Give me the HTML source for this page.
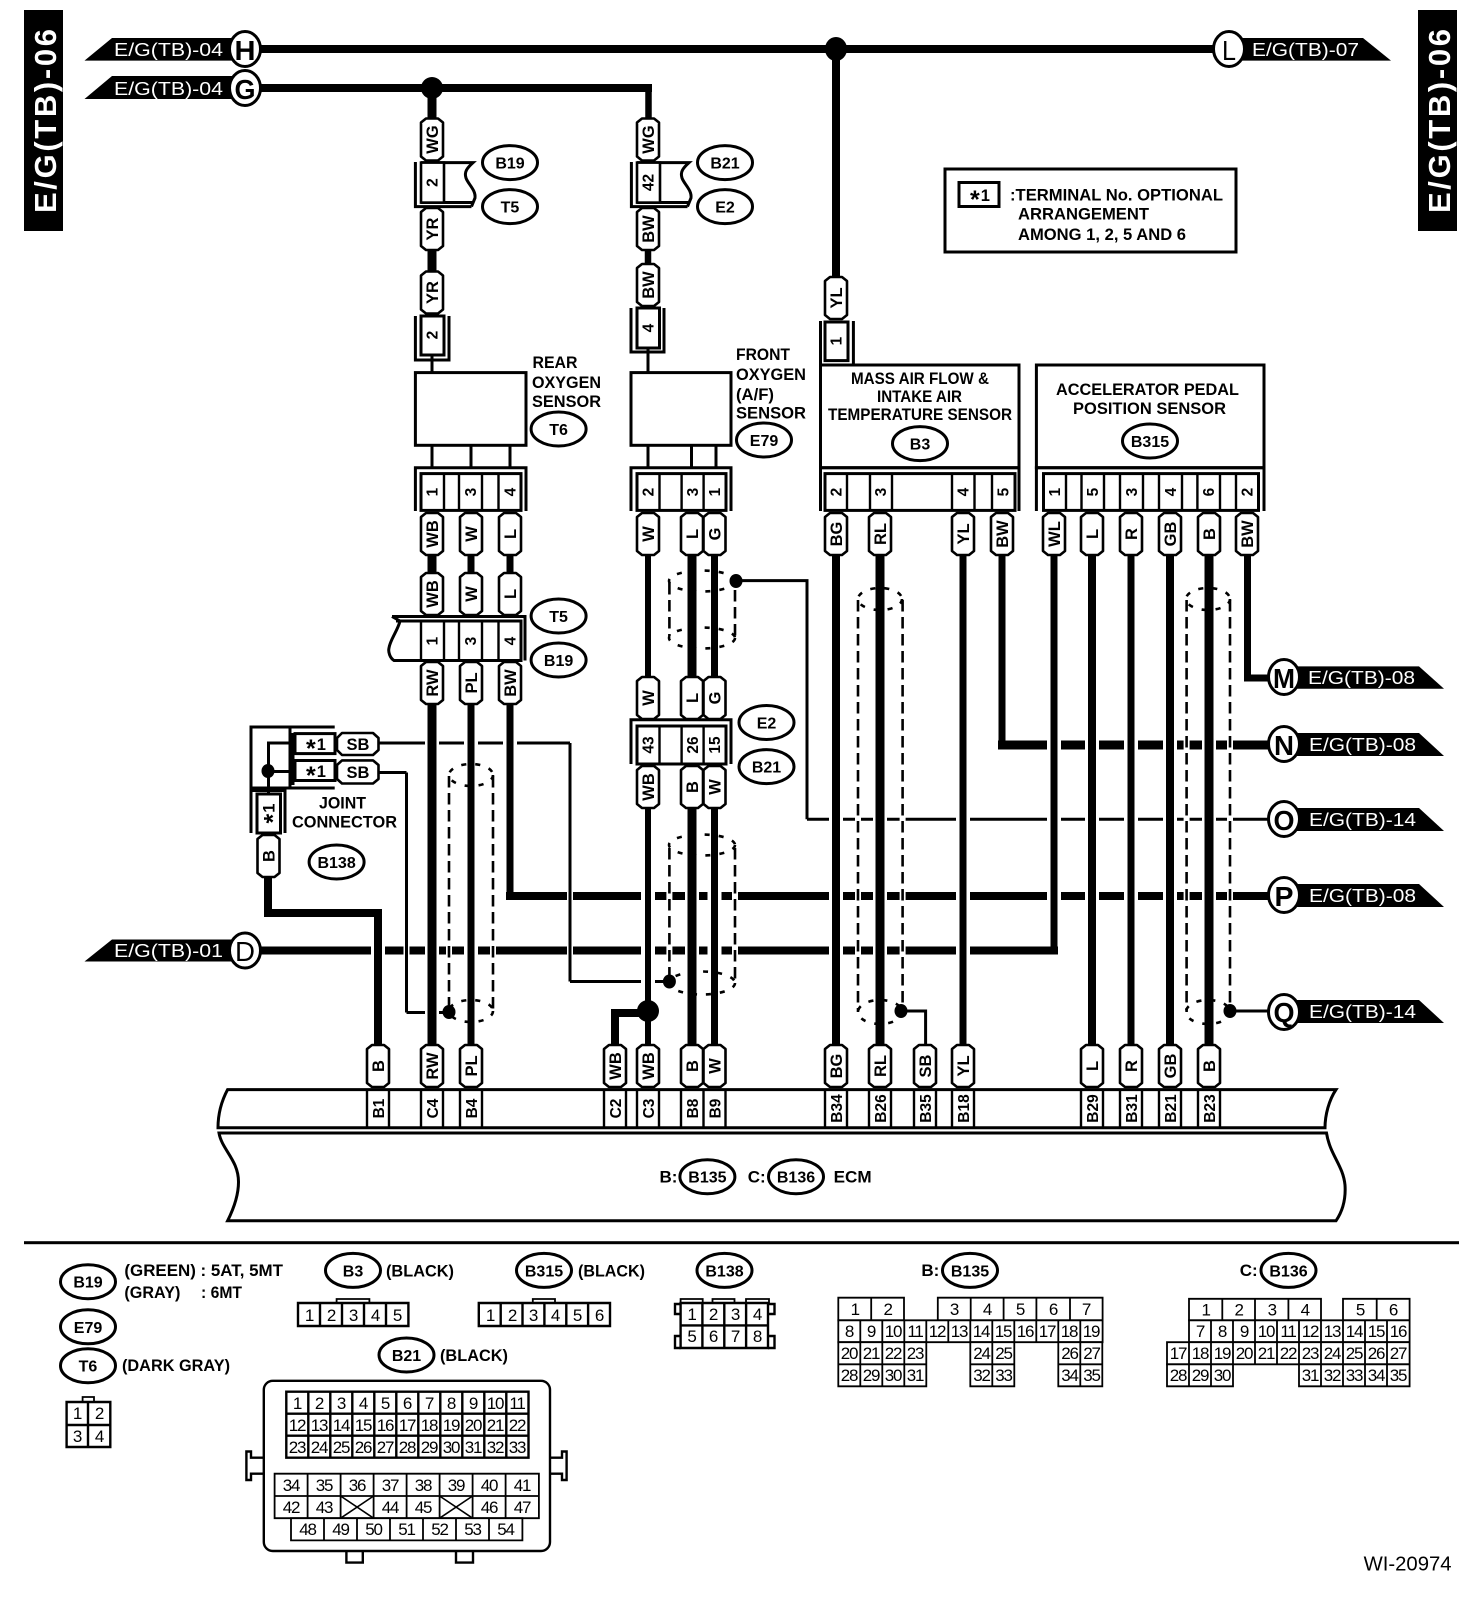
<!DOCTYPE html>
<html><head><meta charset="utf-8"><style>
html,body{margin:0;padding:0;background:#fff}
svg{display:block}
text{font-family:"Liberation Sans",sans-serif;fill:#000}
.b{font-weight:bold}
.l{font-weight:bold;font-size:17px}
.pl{font-weight:bold;font-size:16.5px;text-anchor:middle}
.n{font-weight:bold;font-size:15.5px;text-anchor:middle}
.e{font-weight:bold;font-size:16px;text-anchor:middle}
.g{font-size:17px;text-anchor:middle;letter-spacing:-1.2px}
.t{font-size:18px;fill:#fff}
.cl{font-size:28px;font-weight:bold;text-anchor:middle}
.el{fill:#fff;stroke:#000;stroke-width:3}
.pi{fill:#fff;stroke:#000;stroke-width:2.6;stroke-linejoin:round}
.s3{fill:none;stroke:#000;stroke-width:3}
.s2{fill:none;stroke:#000;stroke-width:2}
.box{fill:#fff;stroke:#000;stroke-width:3}
.grid{fill:#fff;stroke:#000;stroke-width:1.8}
.dash{fill:none;stroke:#000;stroke-width:2.6;stroke-dasharray:11.5 5.5}
.dsh2{fill:none;stroke:#000;stroke-width:2.6;stroke-dasharray:5 9}
</style></head><body>
<svg xmlns="http://www.w3.org/2000/svg" width="1472" height="1616" viewBox="0 0 1472 1616">
<defs>
<path id="p" class="pi" d="M-11,-17 L-6,-21 L6,-21 L11,-17 L11,17 L6,21 L-6,21 L-11,17Z"/>
<g id="cu">
<path class="s3" d="M415.4,162V206.6H471.5"/>
<path class="s3" d="M421,162.6H473C467,168 464,172 466,178C468,184 476,190 475,198L471.5,206.6"/>
<path class="s3" d="M421,202.5H474"/>
<rect x="421" y="162.6" width="23" height="40" fill="#fff" stroke="#000" stroke-width="2.6"/>
</g>
</defs>
<rect width="1472" height="1616" fill="#fff"/>

<!-- side title bars -->
<rect x="24" y="10" width="39" height="221" fill="#000"/>
<text transform="translate(56,213) rotate(-90)" class="b" font-size="31" style="fill:#fff" textLength="184" lengthAdjust="spacing">E/G(TB)-06</text>
<rect x="1418" y="10" width="39" height="221" fill="#000"/>
<text transform="translate(1450,213) rotate(-90)" class="b" font-size="31" style="fill:#fff" textLength="184" lengthAdjust="spacing">E/G(TB)-06</text>

<!-- tag shapes -->
<g fill="#000">
<polygon points="84.5,60.6 112,38 245,38 245,60.6"/>
<polygon points="84.5,99 112,76 245,76 245,99"/>
<polygon points="84.5,961.5 112,939.5 245,939.5 245,961.5"/>
<polygon points="1229,38 1363,38 1391,60.6 1229,60.6"/>
<polygon points="1284,666.4 1419,666.4 1444,688.8 1284,688.8"/>
<polygon points="1284,733 1419,733 1444,756 1284,756"/>
<polygon points="1284,808 1419,808 1444,831 1284,831"/>
<polygon points="1284,884 1419,884 1444,907 1284,907"/>
<polygon points="1284,1000 1419,1000 1444,1023 1284,1023"/>
</g>
<g class="t">
<text class="t" x="114" y="56" textLength="109" lengthAdjust="spacingAndGlyphs">E/G(TB)-04</text>
<text class="t" x="114" y="95" textLength="109" lengthAdjust="spacingAndGlyphs">E/G(TB)-04</text>
<text class="t" x="114" y="957" textLength="109" lengthAdjust="spacingAndGlyphs">E/G(TB)-01</text>
<text class="t" x="1252" y="56" textLength="107" lengthAdjust="spacingAndGlyphs">E/G(TB)-07</text>
<text class="t" x="1308" y="684" textLength="107" lengthAdjust="spacingAndGlyphs">E/G(TB)-08</text>
<text class="t" x="1309" y="751" textLength="107" lengthAdjust="spacingAndGlyphs">E/G(TB)-08</text>
<text class="t" x="1309" y="826" textLength="107" lengthAdjust="spacingAndGlyphs">E/G(TB)-14</text>
<text class="t" x="1309" y="902" textLength="107" lengthAdjust="spacingAndGlyphs">E/G(TB)-08</text>
<text class="t" x="1309" y="1018" textLength="107" lengthAdjust="spacingAndGlyphs">E/G(TB)-14</text>
</g>

<!-- horizontal wires (layer 1) -->
<g fill="none" stroke="#000">
<path stroke-width="8" d="M245,49H1229"/>
<path stroke-width="8" d="M245,88H652"/>
<path stroke-width="8" d="M245,950.5H1058"/>
<path stroke-width="8" d="M506,896H1284"/>
<path stroke-width="9" d="M998,745H1284"/>
<path stroke-width="3" d="M807,819.3H1284"/>
<path stroke-width="3" d="M378,743H570"/>
<path stroke-width="3" d="M378,772.5H406.5"/>
<path stroke-width="3" d="M406.5,1012.5H449"/>
<path stroke-width="3" d="M570,981.5H669"/>
</g>
<!-- halos -->
<g fill="none" stroke="#fff">
<path stroke-width="14" d="M378,920V1040M432,705V1040M471,705V1040M510,705V890M648,810V1005M692,810V1040M714.5,810V1040M836,555V1040M880,555V1040M963,555V1040M1054,555V944M1092,555V1040M1131,555V1040M1170,555V1040M1209,555V1040"/>
<path stroke-width="6" d="M406.5,940V960M570,880V970M449,880V960M493,880V960M669.4,880V960M735,880V960M858,735V1000M902.6,735V1000M1186.6,735V1000M1230,735V1000"/>
</g>
<!-- vertical wires (layer 3) -->
<g fill="none" stroke="#000">
<path stroke-width="9" d="M432,88V118M432,250V271"/>
<path stroke-width="6.5" d="M648.5,84V118M648,250V264"/>
<path stroke-width="8" d="M836,49V276"/>
<path stroke-width="3" d="M432,355V373M648,348V373"/>
<path stroke-width="3" d="M432,445V468M471,445V468M510,445V468M648,445V468M691.5,445V468M716,445V468"/>
<path stroke-width="9" d="M432,555V573M432,704V1044"/>
<path stroke-width="7" d="M471,555V573M471,704V1044"/>
<path stroke-width="7" d="M510,555V573"/>
<path stroke-width="7" d="M510,704V899.5"/>
<path stroke-width="6" d="M648,555V677M648,808V1044"/>
<path stroke-width="9" d="M692,555V677M692,808V1044"/>
<path stroke-width="7" d="M714.5,555V677M714.5,808V1044"/>
<path stroke-width="8" d="M836,555V1044"/>
<path stroke-width="9" d="M880,555V1044"/>
<path stroke-width="7" d="M963,555V1044"/>
<path stroke-width="7" d="M1002,555V749"/>
<path stroke-width="7" d="M1054,555V954"/>
<path stroke-width="8" d="M1092,555V1044"/>
<path stroke-width="7" d="M1131,555V1044"/>
<path stroke-width="8" d="M1170,555V1044"/>
<path stroke-width="9" d="M1209,555V1044"/>
<path stroke-width="7" d="M1247.5,555V678H1270"/>
<path stroke-width="8" d="M268,876V913H378V1044"/>
<path stroke-width="8" d="M645,1013H615V1044"/>
<path stroke-width="3" d="M570,743V981.5M406.5,772.5V1012.5"/>
<path stroke-width="3" d="M736,580.6H807V819.3"/>
<path stroke-width="3" d="M901,1011H925.6V1044"/>
<path stroke-width="3" d="M1230,1011H1284"/>
</g>
<g fill="#000">
<ellipse cx="432" cy="88" rx="11" ry="11"/>
<ellipse cx="836" cy="49" rx="11" ry="12"/>
<ellipse cx="648" cy="1011" rx="11" ry="11"/>
<ellipse cx="669.4" cy="981.5" rx="6.5" ry="7"/>
<ellipse cx="736" cy="581" rx="6.5" ry="7"/>
<ellipse cx="449" cy="1012" rx="6.5" ry="7"/>
<ellipse cx="901" cy="1011" rx="6.5" ry="7"/>
<ellipse cx="1230" cy="1011" rx="6.5" ry="7"/>
</g>

<!-- shields -->
<path class="dash" d="M449,776V1010M493,776V1010M669.4,583V636M735,590V636M669.4,848V980M735,848V980M858,600V1012M902.6,600V1012M1186.6,600V1012M1230,600V1012"/>
<g>
<ellipse class="dsh2" cx="471" cy="775" rx="22" ry="11"/>
<ellipse class="dsh2" cx="471" cy="1011" rx="22" ry="11"/>
<ellipse class="dsh2" cx="702" cy="581" rx="33" ry="10.5"/>
<ellipse class="dsh2" cx="702" cy="638" rx="33" ry="10.5"/>
<ellipse class="dsh2" cx="702" cy="845" rx="33" ry="10.5"/>
<ellipse class="dsh2" cx="702" cy="983" rx="33" ry="11.5"/>
<ellipse class="dsh2" cx="880" cy="599" rx="22" ry="11"/>
<ellipse class="dsh2" cx="880" cy="1012" rx="22" ry="12"/>
<ellipse class="dsh2" cx="1208" cy="599" rx="22" ry="11"/>
<ellipse class="dsh2" cx="1208" cy="1012" rx="22" ry="12"/>
</g>

<!-- circles -->
<g>
<ellipse class="el" cx="245" cy="49" rx="15.5" ry="17.5"/>
<ellipse class="el" cx="245" cy="88" rx="15.5" ry="17.5"/>
<ellipse class="el" cx="245" cy="950.5" rx="15.5" ry="17.5"/>
<ellipse class="el" cx="1229" cy="49" rx="15.5" ry="17.5"/>
<ellipse class="el" cx="1284" cy="677" rx="15.5" ry="17.5"/>
<ellipse class="el" cx="1284" cy="744" rx="15.5" ry="17.5"/>
<ellipse class="el" cx="1284" cy="819" rx="15.5" ry="17.5"/>
<ellipse class="el" cx="1284" cy="895" rx="15.5" ry="17.5"/>
<ellipse class="el" cx="1284" cy="1012" rx="15.5" ry="17.5"/>
</g>
<text class="cl" x="245" y="60" textLength="21" lengthAdjust="spacingAndGlyphs">H</text>
<text class="cl" x="245" y="99" textLength="21" lengthAdjust="spacingAndGlyphs">G</text>
<text class="cl" x="245" y="961" style="font-weight:normal" textLength="20" lengthAdjust="spacingAndGlyphs">D</text>
<text class="cl" x="1229" y="60" style="font-weight:normal" textLength="14" lengthAdjust="spacingAndGlyphs">L</text>
<text class="cl" x="1284" y="688" textLength="22" lengthAdjust="spacingAndGlyphs">M</text>
<text class="cl" x="1284" y="755" textLength="20" lengthAdjust="spacingAndGlyphs">N</text>
<text class="cl" x="1284" y="830" textLength="21" lengthAdjust="spacingAndGlyphs">O</text>
<text class="cl" x="1284" y="906" textLength="19" lengthAdjust="spacingAndGlyphs">P</text>
<text class="cl" x="1284" y="1022" textLength="21" lengthAdjust="spacingAndGlyphs">Q</text>

<!-- sensor boxes -->
<rect class="box" x="415.4" y="372.6" width="110.6" height="72.7"/>
<rect class="box" x="631" y="372.6" width="100" height="72.7"/>
<rect class="box" x="820.5" y="365" width="198.5" height="102.7"/>
<rect class="box" x="1036.4" y="365" width="227.6" height="102.7"/>

<!-- upper connectors -->
<use href="#cu"/>
<use href="#cu" x="216"/>
<path class="s3" d="M415.4,316V360H449V316"/>
<path class="s3" d="M631,308V352H664V308"/>
<path class="s3" d="M820.5,321V365M853.4,321V365"/>
<rect class="box" x="421" y="316" width="23" height="39"/>
<rect class="box" x="637" y="308" width="22.5" height="40"/>
<rect class="box" x="825" y="322" width="23" height="38.6"/>

<!-- lower sensor connectors -->
<path class="s3" d="M415.4,511V467.7H526V511"/>
<path class="s3" d="M631,511V467.7H731V511"/>
<path class="s3" d="M820.5,511V467.7H1019V511"/>
<path class="s3" d="M1036.4,511V467.7H1264V511"/>
<rect class="box" x="421" y="473.6" width="100" height="36.8"/>
<rect class="box" x="637" y="473.6" width="89" height="36.8"/>
<rect class="box" x="825" y="473.6" width="190" height="36.8"/>
<rect class="box" x="1043.5" y="473.6" width="215" height="36.8"/>
<path stroke="#000" stroke-width="2.4" fill="none" d="M444,473.6V510.4M459,473.6V510.4M482,473.6V510.4M498.5,473.6V510.4M659.5,473.6V510.4M681.6,473.6V510.4M703.6,473.6V510.4M847,473.6V510.4M870,473.6V510.4M892,473.6V510.4M952,473.6V510.4M974.5,473.6V510.4M992,473.6V510.4M1066,473.6V510.4M1081.5,473.6V510.4M1104,473.6V510.4M1120,473.6V510.4M1143,473.6V510.4M1159,473.6V510.4M1182,473.6V510.4M1197.4,473.6V510.4M1220,473.6V510.4M1236,473.6V510.4"/>

<!-- T5/B19 rear connector -->
<path class="box" d="M392,616.5H525V660.5"/>
<path fill="#fff" stroke="#000" stroke-width="3" d="M396,621H521V660.5H394C390,658 388,652 389,648C390,640 398,630 400,621Z"/>
<path fill="none" stroke="#000" stroke-width="3" d="M392,616.5L400,621"/>
<path stroke="#000" stroke-width="2.4" fill="none" d="M421,621V660.5M444,621V660.5M459,621V660.5M482,621V660.5M498.5,621V660.5"/>

<!-- E2/B21 connector -->
<path class="s3" d="M631,764V719.8H731V764"/>
<rect class="box" x="637" y="726" width="89" height="38"/>
<path stroke="#000" stroke-width="2.4" fill="none" d="M659.5,726V764M681.6,726V764M703.6,726V764"/>

<!-- joint connector -->
<path class="s3" d="M334.7,727H251V788H334.7M290,727V788M293,733V785"/>
<path fill="none" stroke="#000" stroke-width="3" d="M294,743H268.5V794M294,771.5H268.5"/>
<ellipse cx="268" cy="771" rx="6.5" ry="7" fill="#000"/>
<rect class="box" x="295" y="733.6" width="40" height="20"/>
<rect class="box" x="295" y="760.5" width="40" height="20"/>
<path class="s3" d="M251,833V790.5H285V833"/>
<rect class="box" x="257" y="794" width="23.5" height="39"/>
<polygon class="pi" points="337,738 342,733 373,733 378.5,738 378.5,750 373,755 342,755 337,750"/>
<polygon class="pi" points="337,765 342,760.4 373,760.4 378.5,765 378.5,779 373,783.5 342,783.5 337,779"/>
<text class="pl" x="316" y="750"><tspan font-size="25" dy="7">*</tspan><tspan dy="-7" dx="1">1</tspan></text>
<text class="pl" x="316" y="777"><tspan font-size="25" dy="7">*</tspan><tspan dy="-7" dx="1">1</tspan></text>
<text class="pl" x="358" y="750">SB</text>
<text class="pl" x="358" y="778">SB</text>
<text transform="translate(274.5,813.5) rotate(-90)" class="pl"><tspan font-size="25" dy="7">*</tspan><tspan dy="-7" dx="1">1</tspan></text>
<use href="#p" x="268.5" y="856"/>
<text transform="translate(274.5,856) rotate(-90)" class="pl">B</text>

<!-- pills -->
<use href="#p" x="432" y="139.5"/><use href="#p" x="648" y="139.5"/>
<use href="#p" x="432" y="229"/><use href="#p" x="648" y="229"/>
<use href="#p" x="432" y="292.5"/><use href="#p" x="648" y="285"/>
<use href="#p" x="836" y="298"/>
<use href="#p" x="432" y="534"/><use href="#p" x="471" y="534"/><use href="#p" x="510" y="534"/><use href="#p" x="648" y="534"/><use href="#p" x="692" y="534"/><use href="#p" x="714.5" y="534"/><use href="#p" x="836" y="534"/><use href="#p" x="880" y="534"/><use href="#p" x="963" y="534"/><use href="#p" x="1002" y="534"/><use href="#p" x="1054" y="534"/><use href="#p" x="1092" y="534"/><use href="#p" x="1131" y="534"/><use href="#p" x="1170" y="534"/><use href="#p" x="1209" y="534"/><use href="#p" x="1247" y="534"/>
<use href="#p" x="432" y="594"/><use href="#p" x="471" y="594"/><use href="#p" x="510" y="594"/>
<use href="#p" x="432" y="683"/><use href="#p" x="471" y="683"/><use href="#p" x="510" y="683"/>
<use href="#p" x="648" y="698"/><use href="#p" x="692" y="698"/><use href="#p" x="714.5" y="698"/>
<use href="#p" x="648" y="787"/><use href="#p" x="692" y="787"/><use href="#p" x="714.5" y="787"/>
<use href="#p" x="378" y="1066"/><use href="#p" x="432" y="1066"/><use href="#p" x="471" y="1066"/><use href="#p" x="615" y="1066"/><use href="#p" x="648" y="1066"/><use href="#p" x="692" y="1066"/><use href="#p" x="714.5" y="1066"/><use href="#p" x="836" y="1066"/><use href="#p" x="880" y="1066"/><use href="#p" x="925" y="1066"/><use href="#p" x="963" y="1066"/><use href="#p" x="1092" y="1066"/><use href="#p" x="1131" y="1066"/><use href="#p" x="1170" y="1066"/><use href="#p" x="1209" y="1066"/>

<!-- pill labels -->
<text transform="translate(438,139.5) rotate(-90)" class="pl">WG</text><text transform="translate(654,139.5) rotate(-90)" class="pl">WG</text>
<text transform="translate(438,229) rotate(-90)" class="pl">YR</text><text transform="translate(654,229) rotate(-90)" class="pl">BW</text>
<text transform="translate(438,292.5) rotate(-90)" class="pl">YR</text><text transform="translate(654,285) rotate(-90)" class="pl">BW</text>
<text transform="translate(842,298) rotate(-90)" class="pl">YL</text>
<text transform="translate(438,534) rotate(-90)" class="pl">WB</text><text transform="translate(477,534) rotate(-90)" class="pl">W</text><text transform="translate(516,534) rotate(-90)" class="pl">L</text><text transform="translate(654,534) rotate(-90)" class="pl">W</text><text transform="translate(698,534) rotate(-90)" class="pl">L</text><text transform="translate(720.5,534) rotate(-90)" class="pl">G</text><text transform="translate(842,534) rotate(-90)" class="pl">BG</text><text transform="translate(886,534) rotate(-90)" class="pl">RL</text><text transform="translate(969,534) rotate(-90)" class="pl">YL</text><text transform="translate(1008,534) rotate(-90)" class="pl">BW</text><text transform="translate(1060,534) rotate(-90)" class="pl">WL</text><text transform="translate(1098,534) rotate(-90)" class="pl">L</text><text transform="translate(1137,534) rotate(-90)" class="pl">R</text><text transform="translate(1176,534) rotate(-90)" class="pl">GB</text><text transform="translate(1215,534) rotate(-90)" class="pl">B</text><text transform="translate(1253,534) rotate(-90)" class="pl">BW</text>
<text transform="translate(438,594) rotate(-90)" class="pl">WB</text><text transform="translate(477,594) rotate(-90)" class="pl">W</text><text transform="translate(516,594) rotate(-90)" class="pl">L</text>
<text transform="translate(438,683) rotate(-90)" class="pl">RW</text><text transform="translate(477,683) rotate(-90)" class="pl">PL</text><text transform="translate(516,683) rotate(-90)" class="pl">BW</text>
<text transform="translate(654,698) rotate(-90)" class="pl">W</text><text transform="translate(698,698) rotate(-90)" class="pl">L</text><text transform="translate(720.5,698) rotate(-90)" class="pl">G</text>
<text transform="translate(654,787) rotate(-90)" class="pl">WB</text><text transform="translate(698,787) rotate(-90)" class="pl">B</text><text transform="translate(720.5,787) rotate(-90)" class="pl">W</text>
<text transform="translate(384,1066) rotate(-90)" class="pl">B</text><text transform="translate(438,1066) rotate(-90)" class="pl">RW</text><text transform="translate(477,1066) rotate(-90)" class="pl">PL</text><text transform="translate(621,1066) rotate(-90)" class="pl">WB</text><text transform="translate(654,1066) rotate(-90)" class="pl">WB</text><text transform="translate(698,1066) rotate(-90)" class="pl">B</text><text transform="translate(720.5,1066) rotate(-90)" class="pl">W</text><text transform="translate(842,1066) rotate(-90)" class="pl">BG</text><text transform="translate(886,1066) rotate(-90)" class="pl">RL</text><text transform="translate(931,1066) rotate(-90)" class="pl">SB</text><text transform="translate(969,1066) rotate(-90)" class="pl">YL</text><text transform="translate(1098,1066) rotate(-90)" class="pl">L</text><text transform="translate(1137,1066) rotate(-90)" class="pl">R</text><text transform="translate(1176,1066) rotate(-90)" class="pl">GB</text><text transform="translate(1215,1066) rotate(-90)" class="pl">B</text>

<!-- cell numbers -->
<text transform="translate(437.5,182.5) rotate(-90)" class="n">2</text><text transform="translate(653.5,182.5) rotate(-90)" class="n">42</text>
<text transform="translate(437.5,335) rotate(-90)" class="n">2</text><text transform="translate(653.5,328) rotate(-90)" class="n">4</text><text transform="translate(841.5,341) rotate(-90)" class="n">1</text>
<text transform="translate(437.5,492) rotate(-90)" class="n">1</text><text transform="translate(476,492) rotate(-90)" class="n">3</text><text transform="translate(515.5,492) rotate(-90)" class="n">4</text>
<text transform="translate(653.5,492) rotate(-90)" class="n">2</text><text transform="translate(698,492) rotate(-90)" class="n">3</text><text transform="translate(720,492) rotate(-90)" class="n">1</text>
<text transform="translate(841.5,492) rotate(-90)" class="n">2</text><text transform="translate(886,492) rotate(-90)" class="n">3</text><text transform="translate(968.5,492) rotate(-90)" class="n">4</text><text transform="translate(1008.5,492) rotate(-90)" class="n">5</text>
<text transform="translate(1060,492) rotate(-90)" class="n">1</text><text transform="translate(1098,492) rotate(-90)" class="n">5</text><text transform="translate(1137,492) rotate(-90)" class="n">3</text><text transform="translate(1176,492) rotate(-90)" class="n">4</text><text transform="translate(1214,492) rotate(-90)" class="n">6</text><text transform="translate(1252.5,492) rotate(-90)" class="n">2</text>
<text transform="translate(437.5,641) rotate(-90)" class="n">1</text><text transform="translate(476,641) rotate(-90)" class="n">3</text><text transform="translate(515.5,641) rotate(-90)" class="n">4</text>
<text transform="translate(653.5,745) rotate(-90)" class="n">43</text><text transform="translate(698,745) rotate(-90)" class="n">26</text><text transform="translate(720,745) rotate(-90)" class="n">15</text>

<!-- sensor and ref labels -->
<text class="l" x="532.5" y="368" textLength="45" lengthAdjust="spacingAndGlyphs">REAR</text>
<text class="l" x="532" y="388" textLength="69" lengthAdjust="spacingAndGlyphs">OXYGEN</text>
<text class="l" x="532" y="407" textLength="69" lengthAdjust="spacingAndGlyphs">SENSOR</text>
<text class="l" x="736" y="360" textLength="54" lengthAdjust="spacingAndGlyphs">FRONT</text>
<text class="l" x="736" y="380" textLength="70" lengthAdjust="spacingAndGlyphs">OXYGEN</text>
<text class="l" x="736" y="400" textLength="38" lengthAdjust="spacingAndGlyphs">(A/F)</text>
<text class="l" x="736" y="418.5" textLength="70" lengthAdjust="spacingAndGlyphs">SENSOR</text>
<text class="l" x="851" y="384" textLength="138" lengthAdjust="spacingAndGlyphs">MASS AIR FLOW &amp;</text>
<text class="l" x="877" y="402" textLength="85" lengthAdjust="spacingAndGlyphs">INTAKE AIR</text>
<text class="l" x="828" y="420" textLength="184" lengthAdjust="spacingAndGlyphs">TEMPERATURE SENSOR</text>
<text class="l" x="1056" y="395" textLength="183" lengthAdjust="spacingAndGlyphs">ACCELERATOR PEDAL</text>
<text class="l" x="1073" y="414" textLength="153" lengthAdjust="spacingAndGlyphs">POSITION SENSOR</text>
<text class="l" x="319" y="808.6" textLength="47" lengthAdjust="spacingAndGlyphs">JOINT</text>
<text class="l" x="292" y="827.6" textLength="105" lengthAdjust="spacingAndGlyphs">CONNECTOR</text>

<!-- note box -->
<rect class="box" x="945" y="169" width="291" height="83"/>
<rect class="box" x="959" y="182.5" width="40" height="24"/>
<text class="pl" x="980" y="201"><tspan font-size="25" dy="7">*</tspan><tspan dy="-7" dx="1">1</tspan></text>
<text class="l" x="1010" y="200.5" textLength="213" lengthAdjust="spacingAndGlyphs">:TERMINAL No. OPTIONAL</text>
<text class="l" x="1018" y="219.5" textLength="131" lengthAdjust="spacingAndGlyphs">ARRANGEMENT</text>
<text class="l" x="1018" y="240" textLength="168" lengthAdjust="spacingAndGlyphs">AMONG 1, 2, 5 AND 6</text>

<!-- ref ellipses -->
<ellipse class="el" cx="510" cy="162.6" rx="27.5" ry="17"/><text class="e" x="510" y="168.6">B19</text>
<ellipse class="el" cx="510" cy="206.6" rx="27.5" ry="17"/><text class="e" x="510" y="212.6">T5</text>
<ellipse class="el" cx="725" cy="162.6" rx="27.5" ry="17"/><text class="e" x="725" y="168.6">B21</text>
<ellipse class="el" cx="725" cy="206.6" rx="27.5" ry="17"/><text class="e" x="725" y="212.6">E2</text>
<ellipse class="el" cx="558.6" cy="429" rx="27.5" ry="17"/><text class="e" x="558.6" y="435">T6</text>
<ellipse class="el" cx="764" cy="440" rx="27.5" ry="17"/><text class="e" x="764" y="446">E79</text>
<ellipse class="el" cx="920" cy="443.6" rx="27.5" ry="17"/><text class="e" x="920" y="449.6">B3</text>
<ellipse class="el" cx="1150" cy="441" rx="27.5" ry="17"/><text class="e" x="1150" y="447">B315</text>
<ellipse class="el" cx="558.6" cy="616" rx="27.5" ry="17"/><text class="e" x="558.6" y="622">T5</text>
<ellipse class="el" cx="558.6" cy="660" rx="27.5" ry="17"/><text class="e" x="558.6" y="666">B19</text>
<ellipse class="el" cx="766.5" cy="722.5" rx="27.5" ry="17"/><text class="e" x="766.5" y="728.5">E2</text>
<ellipse class="el" cx="766.5" cy="766.6" rx="27.5" ry="17"/><text class="e" x="766.5" y="772.6">B21</text>
<ellipse class="el" cx="336.6" cy="862" rx="27.5" ry="17"/><text class="e" x="336.6" y="868">B138</text>

<!-- ECM -->
<path class="s3" d="M1336,1089.6H227.6C221,1102 218,1115 218,1127.8H1325C1325,1115 1329,1100 1336,1089.6Z"/>
<path class="s3" d="M219,1133H1326.5C1330,1155 1343,1165 1345,1185C1346,1200 1342,1212 1336,1220.8H227.6C234,1208 238.5,1195 238.5,1182C238.5,1160 222,1150 219,1133Z"/>
<path stroke="#000" stroke-width="2.4" fill="none" d="M367,1089.6V1127.8M389,1089.6V1127.8M421,1089.6V1127.8M443,1089.6V1127.8M460,1089.6V1127.8M482,1089.6V1127.8M604,1089.6V1127.8M626,1089.6V1127.8M637,1089.6V1127.8M659,1089.6V1127.8M681,1089.6V1127.8M703.5,1089.6V1127.8M725.5,1089.6V1127.8M825,1089.6V1127.8M847,1089.6V1127.8M869,1089.6V1127.8M891,1089.6V1127.8M914,1089.6V1127.8M936,1089.6V1127.8M952,1089.6V1127.8M974,1089.6V1127.8M1081,1089.6V1127.8M1103,1089.6V1127.8M1120,1089.6V1127.8M1142,1089.6V1127.8M1159,1089.6V1127.8M1181,1089.6V1127.8M1198,1089.6V1127.8M1220,1089.6V1127.8"/>
<g>
<text transform="translate(384,1108.5) rotate(-90)" class="n">B1</text><text transform="translate(438,1108.5) rotate(-90)" class="n">C4</text><text transform="translate(477,1108.5) rotate(-90)" class="n">B4</text><text transform="translate(621,1108.5) rotate(-90)" class="n">C2</text><text transform="translate(654,1108.5) rotate(-90)" class="n">C3</text><text transform="translate(698,1108.5) rotate(-90)" class="n">B8</text><text transform="translate(720.5,1108.5) rotate(-90)" class="n">B9</text><text transform="translate(842,1108.5) rotate(-90)" class="n">B34</text><text transform="translate(886,1108.5) rotate(-90)" class="n">B26</text><text transform="translate(931,1108.5) rotate(-90)" class="n">B35</text><text transform="translate(969,1108.5) rotate(-90)" class="n">B18</text><text transform="translate(1098,1108.5) rotate(-90)" class="n">B29</text><text transform="translate(1137,1108.5) rotate(-90)" class="n">B31</text><text transform="translate(1176,1108.5) rotate(-90)" class="n">B21</text><text transform="translate(1215,1108.5) rotate(-90)" class="n">B23</text>
</g>
<text class="l" x="659.5" y="1182.5">B:</text>
<ellipse class="el" cx="707.4" cy="1176.7" rx="27.5" ry="17"/><text class="e" x="707.4" y="1182.7">B135</text>
<text class="l" x="747.7" y="1182.5">C:</text>
<ellipse class="el" cx="796" cy="1176.7" rx="27.5" ry="17"/><text class="e" x="796" y="1182.7">B136</text>
<text class="l" x="833.6" y="1182.5" textLength="38" lengthAdjust="spacingAndGlyphs">ECM</text>

<!-- divider -->
<rect x="24" y="1241.2" width="1435" height="3" fill="#000"/>

<!-- legend -->
<ellipse class="el" cx="88" cy="1281.7" rx="27.5" ry="17"/><text class="e" x="88" y="1287.7">B19</text>
<ellipse class="el" cx="88" cy="1326.8" rx="27.5" ry="17"/><text class="e" x="88" y="1332.8">E79</text>
<ellipse class="el" cx="88" cy="1365.7" rx="27.5" ry="17"/><text class="e" x="88" y="1371.7">T6</text>
<text class="l" x="124.4" y="1276" textLength="158.6" lengthAdjust="spacingAndGlyphs">(GREEN) : 5AT, 5MT</text>
<text class="l" x="124.4" y="1298" textLength="56" lengthAdjust="spacingAndGlyphs">(GRAY)</text>
<text class="l" x="201" y="1298" textLength="41" lengthAdjust="spacingAndGlyphs">: 6MT</text>
<text class="l" x="122" y="1371" textLength="108" lengthAdjust="spacingAndGlyphs">(DARK GRAY)</text>
<ellipse class="el" cx="353" cy="1270.4" rx="27.5" ry="17"/><text class="e" x="353" y="1276.4">B3</text>
<text class="l" x="386" y="1276.5" textLength="68" lengthAdjust="spacingAndGlyphs">(BLACK)</text>
<ellipse class="el" cx="544" cy="1270.4" rx="27.5" ry="17"/><text class="e" x="544" y="1276.4">B315</text>
<text class="l" x="578" y="1276.5" textLength="67" lengthAdjust="spacingAndGlyphs">(BLACK)</text>
<ellipse class="el" cx="724.5" cy="1270.4" rx="27.5" ry="17"/><text class="e" x="724.5" y="1276.4">B138</text>
<ellipse class="el" cx="406.5" cy="1355" rx="27.5" ry="17"/><text class="e" x="406.5" y="1361">B21</text>
<text class="l" x="440" y="1361" textLength="68" lengthAdjust="spacingAndGlyphs">(BLACK)</text>

<!-- T6 connector -->
<path class="grid" d="M82.6,1402V1397H94V1402"/>
<path class="grid" style="stroke-width:2.4" d="M66.6,1402H110.3V1447H66.6ZM66.6,1425H110.3M88,1402V1447"/>
<text class="g" x="77" y="1419">1</text><text class="g" x="99" y="1419">2</text><text class="g" x="77" y="1442">3</text><text class="g" x="99" y="1442">4</text>

<!-- B3 connector -->
<path class="grid" d="M336.6,1303V1299H369.4V1303"/>
<path class="grid" style="stroke-width:2.4" d="M298,1303H408.4V1326H298ZM320,1303V1326M342,1303V1326M364,1303V1326M386,1303V1326"/>
<text class="g" x="309" y="1321">1</text><text class="g" x="331" y="1321">2</text><text class="g" x="353" y="1321">3</text><text class="g" x="375" y="1321">4</text><text class="g" x="397" y="1321">5</text>

<!-- B315 connector -->
<path class="grid" d="M532.8,1303V1299H555V1303"/>
<path class="grid" style="stroke-width:2.4" d="M478.8,1303H610V1326H478.8ZM500.7,1303V1326M522.5,1303V1326M544.4,1303V1326M566.3,1303V1326M588.1,1303V1326"/>
<text class="g" x="490" y="1321">1</text><text class="g" x="512" y="1321">2</text><text class="g" x="533" y="1321">3</text><text class="g" x="555" y="1321">4</text><text class="g" x="577" y="1321">5</text><text class="g" x="599" y="1321">6</text>

<!-- B138 connector -->
<path class="grid" d="M680.6,1303V1299H702.7V1303M712.5,1303V1299H734.5V1303M746,1303V1299H769V1303"/>
<path class="s2" style="stroke-width:2.4" d="M680.6,1314H675V1304H680.6M680.6,1348H675V1336H680.6M768,1314H774.5V1304H768M768,1348H774.5V1336H768"/>
<path class="grid" style="stroke-width:2.4" d="M680.6,1303H768V1348H680.6ZM680.6,1325.4H768M702.4,1303V1348M724.3,1303V1348M746.1,1303V1348"/>
<text class="g" x="691.5" y="1320">1</text><text class="g" x="713" y="1320">2</text><text class="g" x="735" y="1320">3</text><text class="g" x="757" y="1320">4</text>
<text class="g" x="691.5" y="1342">5</text><text class="g" x="713" y="1342">6</text><text class="g" x="735" y="1342">7</text><text class="g" x="757" y="1342">8</text>

<!-- B21 housing -->
<path class="s2" style="stroke-width:2.4" d="M263.8,1457.7H251V1451.5H246.4V1480H251V1473.7H263.8M550,1457.7H562V1451.5H566.6V1480H562V1473.7H550"/>
<path class="s2" style="stroke-width:2.4" d="M346.4,1551V1562.6H362.8V1551M456,1551V1562.6H473V1551"/>
<rect x="263.8" y="1380.8" width="286.2" height="170.2" rx="9" fill="#fff" stroke="#000" stroke-width="2.4"/>
<path class="grid" style="stroke-width:2.4" d="M286.3,1391.7H528.5V1457.7H286.3ZM286.3,1413.7H528.5M286.3,1435.7H528.5M308.3,1391.7V1457.7M330.3,1391.7V1457.7M352.3,1391.7V1457.7M374.3,1391.7V1457.7M396.3,1391.7V1457.7M418.3,1391.7V1457.7M440.3,1391.7V1457.7M462.3,1391.7V1457.7M484.3,1391.7V1457.7M506.3,1391.7V1457.7"/>
<path class="grid" d="M274.6,1473.7H538.9V1518.2H274.6ZM274.6,1496H538.9M307.6,1473.7V1518.2M340.6,1473.7V1518.2M373.6,1473.7V1518.2M406.6,1473.7V1518.2M439.6,1473.7V1518.2M472.6,1473.7V1518.2M505.6,1473.7V1518.2"/>
<path class="grid" d="M291,1518.2H522.4V1540.4H291ZM324,1518.2V1540.4M357,1518.2V1540.4M390,1518.2V1540.4M423,1518.2V1540.4M456,1518.2V1540.4M489,1518.2V1540.4"/>
<path class="s2" style="stroke-width:1.6" d="M340.6,1496L373.6,1518.2M373.6,1496L340.6,1518.2M439.6,1496L472.6,1518.2M472.6,1496L439.6,1518.2"/>
<text class="g" x="297" y="1409">1</text><text class="g" x="319" y="1409">2</text><text class="g" x="341" y="1409">3</text><text class="g" x="363" y="1409">4</text><text class="g" x="385" y="1409">5</text><text class="g" x="407" y="1409">6</text><text class="g" x="429" y="1409">7</text><text class="g" x="451" y="1409">8</text><text class="g" x="473" y="1409">9</text><text class="g" x="495" y="1409">10</text><text class="g" x="517" y="1409">11</text>
<text class="g" x="297" y="1431">12</text><text class="g" x="319" y="1431">13</text><text class="g" x="341" y="1431">14</text><text class="g" x="363" y="1431">15</text><text class="g" x="385" y="1431">16</text><text class="g" x="407" y="1431">17</text><text class="g" x="429" y="1431">18</text><text class="g" x="451" y="1431">19</text><text class="g" x="473" y="1431">20</text><text class="g" x="495" y="1431">21</text><text class="g" x="517" y="1431">22</text>
<text class="g" x="297" y="1453">23</text><text class="g" x="319" y="1453">24</text><text class="g" x="341" y="1453">25</text><text class="g" x="363" y="1453">26</text><text class="g" x="385" y="1453">27</text><text class="g" x="407" y="1453">28</text><text class="g" x="429" y="1453">29</text><text class="g" x="451" y="1453">30</text><text class="g" x="473" y="1453">31</text><text class="g" x="495" y="1453">32</text><text class="g" x="517" y="1453">33</text>
<text class="g" x="291" y="1491">34</text><text class="g" x="324" y="1491">35</text><text class="g" x="357" y="1491">36</text><text class="g" x="390" y="1491">37</text><text class="g" x="423" y="1491">38</text><text class="g" x="456" y="1491">39</text><text class="g" x="489" y="1491">40</text><text class="g" x="522" y="1491">41</text>
<text class="g" x="291" y="1513">42</text><text class="g" x="324" y="1513">43</text><text class="g" x="390" y="1513">44</text><text class="g" x="423" y="1513">45</text><text class="g" x="489" y="1513">46</text><text class="g" x="522" y="1513">47</text>
<text class="g" x="307.5" y="1535">48</text><text class="g" x="340.5" y="1535">49</text><text class="g" x="373.5" y="1535">50</text><text class="g" x="406.5" y="1535">51</text><text class="g" x="439.5" y="1535">52</text><text class="g" x="472.5" y="1535">53</text><text class="g" x="505.5" y="1535">54</text>

<!-- B135 -->
<text class="l" x="921.4" y="1276">B:</text>
<ellipse class="el" cx="970" cy="1270.4" rx="27.5" ry="17"/><text class="e" x="970" y="1276.4">B135</text>
<path class="grid" d="M838.3,1297.7H904V1320.3H838.3ZM871.2,1297.7V1320.3M937.8,1297.7H1102.6V1320.3H937.8ZM970.7,1297.7V1320.3M1003.6,1297.7V1320.3M1036.4,1297.7V1320.3M1070,1297.7V1320.3"/>
<path class="grid" d="M838.3,1320.3H1102.6V1342.2H838.3ZM860.3,1320.3V1342.2M882.3,1320.3V1342.2M904.3,1320.3V1342.2M926.3,1320.3V1342.2M948.3,1320.3V1342.2M970.3,1320.3V1342.2M992.3,1320.3V1342.2M1014.3,1320.3V1342.2M1036.3,1320.3V1342.2M1058.3,1320.3V1342.2M1080.3,1320.3V1342.2"/>
<path class="grid" d="M838.3,1342.2H926.3V1386.3H838.3ZM838.3,1364.3H926.3M860.3,1342.2V1386.3M882.3,1342.2V1386.3M904.3,1342.2V1386.3M970.3,1342.2H1014.3V1386.3H970.3ZM970.3,1364.3H1014.3M992.3,1342.2V1386.3M1058.3,1342.2H1102.3V1386.3H1058.3ZM1058.3,1364.3H1102.3M1080.3,1342.2V1386.3"/>
<text class="g" x="854.7" y="1315">1</text><text class="g" x="887.6" y="1315">2</text><text class="g" x="954" y="1315">3</text><text class="g" x="987" y="1315">4</text><text class="g" x="1020" y="1315">5</text><text class="g" x="1053" y="1315">6</text><text class="g" x="1086" y="1315">7</text>
<text class="g" x="849" y="1337">8</text><text class="g" x="871" y="1337">9</text><text class="g" x="893" y="1337">10</text><text class="g" x="915" y="1337">11</text><text class="g" x="937" y="1337">12</text><text class="g" x="959" y="1337">13</text><text class="g" x="981" y="1337">14</text><text class="g" x="1003" y="1337">15</text><text class="g" x="1025" y="1337">16</text><text class="g" x="1047" y="1337">17</text><text class="g" x="1069" y="1337">18</text><text class="g" x="1091" y="1337">19</text>
<text class="g" x="849" y="1359">20</text><text class="g" x="871" y="1359">21</text><text class="g" x="893" y="1359">22</text><text class="g" x="915" y="1359">23</text><text class="g" x="981.5" y="1359">24</text><text class="g" x="1003.5" y="1359">25</text><text class="g" x="1069.5" y="1359">26</text><text class="g" x="1091.5" y="1359">27</text>
<text class="g" x="849" y="1381">28</text><text class="g" x="871" y="1381">29</text><text class="g" x="893" y="1381">30</text><text class="g" x="915" y="1381">31</text><text class="g" x="981.5" y="1381">32</text><text class="g" x="1003.5" y="1381">33</text><text class="g" x="1069.5" y="1381">34</text><text class="g" x="1091.5" y="1381">35</text>

<!-- B136 -->
<text class="l" x="1239.7" y="1276">C:</text>
<ellipse class="el" cx="1288.5" cy="1270.4" rx="27.5" ry="17"/><text class="e" x="1288.5" y="1276.4">B136</text>
<path class="grid" d="M1189,1298.8H1321V1320.3H1189ZM1222.3,1298.8V1320.3M1255,1298.8V1320.3M1288.4,1298.8V1320.3M1343,1298.8H1409.6V1320.3H1343ZM1376.7,1298.8V1320.3"/>
<path class="grid" d="M1189,1320.3H1409.6V1342.2H1189ZM1211,1320.3V1342.2M1233,1320.3V1342.2M1255,1320.3V1342.2M1277,1320.3V1342.2M1299,1320.3V1342.2M1321,1320.3V1342.2M1343,1320.3V1342.2M1365,1320.3V1342.2M1387,1320.3V1342.2"/>
<path class="grid" d="M1167,1342.2H1409.6V1364.3H1167ZM1189,1342.2V1364.3M1211,1342.2V1364.3M1233,1342.2V1364.3M1255,1342.2V1364.3M1277,1342.2V1364.3M1299,1342.2V1364.3M1321,1342.2V1364.3M1343,1342.2V1364.3M1365,1342.2V1364.3M1387,1342.2V1364.3"/>
<path class="grid" d="M1167,1364.3H1233V1386.3H1167ZM1189,1364.3V1386.3M1211,1364.3V1386.3M1299,1364.3H1409.6V1386.3H1299ZM1321,1364.3V1386.3M1343,1364.3V1386.3M1365,1364.3V1386.3M1387,1364.3V1386.3"/>
<text class="g" x="1205.6" y="1315.5">1</text><text class="g" x="1238.6" y="1315.5">2</text><text class="g" x="1271.7" y="1315.5">3</text><text class="g" x="1304.7" y="1315.5">4</text><text class="g" x="1360" y="1315.5">5</text><text class="g" x="1393" y="1315.5">6</text>
<text class="g" x="1200" y="1337">7</text><text class="g" x="1222" y="1337">8</text><text class="g" x="1244" y="1337">9</text><text class="g" x="1266" y="1337">10</text><text class="g" x="1288" y="1337">11</text><text class="g" x="1310" y="1337">12</text><text class="g" x="1332" y="1337">13</text><text class="g" x="1354" y="1337">14</text><text class="g" x="1376" y="1337">15</text><text class="g" x="1398" y="1337">16</text>
<text class="g" x="1178" y="1359">17</text><text class="g" x="1200" y="1359">18</text><text class="g" x="1222" y="1359">19</text><text class="g" x="1244" y="1359">20</text><text class="g" x="1266" y="1359">21</text><text class="g" x="1288" y="1359">22</text><text class="g" x="1310" y="1359">23</text><text class="g" x="1332" y="1359">24</text><text class="g" x="1354" y="1359">25</text><text class="g" x="1376" y="1359">26</text><text class="g" x="1398" y="1359">27</text>
<text class="g" x="1178" y="1381">28</text><text class="g" x="1200" y="1381">29</text><text class="g" x="1222" y="1381">30</text><text class="g" x="1310" y="1381">31</text><text class="g" x="1332" y="1381">32</text><text class="g" x="1354" y="1381">33</text><text class="g" x="1376" y="1381">34</text><text class="g" x="1398" y="1381">35</text>

<text x="1363.6" y="1570.5" font-size="20" textLength="88" lengthAdjust="spacingAndGlyphs">WI-20974</text>
</svg>
</body></html>
